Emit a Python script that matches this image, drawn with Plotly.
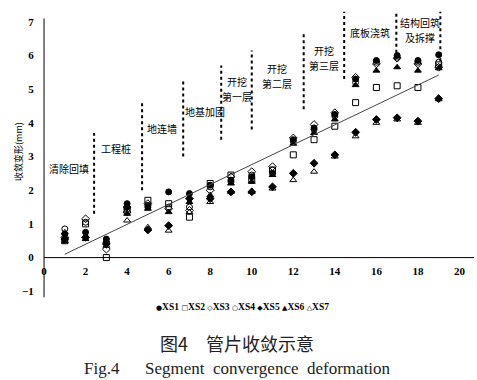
import plotly.graph_objects as go

steps = list(range(1, 20))
XS1 = [0.70, 0.75, 0.55, 1.60, 1.50, 1.95, 1.90, 2.15, 2.30, 2.40, 2.50, 3.50, 3.85, 4.25, 5.30, 5.85, 6.00, 5.85, 6.02]
XS2 = [0.50, 1.00, 0.00, 1.40, 1.70, 1.60, 1.20, 2.20, 2.45, 2.30, 2.60, 3.05, 3.50, 3.90, 4.60, 5.05, 5.10, 5.05, 5.72]
XS3 = [0.60, 1.15, 0.25, 1.35, 1.60, 1.45, 1.40, 2.00, 2.40, 2.55, 2.70, 3.55, 3.95, 4.30, 5.35, 5.75, 5.92, 5.75, 5.65]
XS4 = [0.85, 1.05, 0.45, 1.45, 1.55, 1.50, 1.50, 2.10, 2.25, 2.45, 2.60, 3.45, 3.80, 4.20, 5.20, 5.80, 5.95, 5.80, 5.80]
XS5 = [0.55, 0.60, 0.40, 1.50, 0.82, 0.95, 1.75, 1.75, 1.95, 1.95, 2.10, 2.50, 2.80, 3.05, 3.72, 4.10, 4.15, 4.05, 4.72]
XS6 = [0.48, 0.55, 0.50, 1.30, 1.45, 1.35, 1.65, 1.85, 2.20, 2.25, 2.45, 3.38, 3.70, 4.10, 5.12, 5.55, 5.65, 5.55, 5.62]
XS7 = [0.75, 0.65, 0.35, 1.10, 0.90, 0.80, 1.35, 1.65, 1.95, 1.95, 2.05, 2.30, 2.55, 3.00, 3.60, 4.00, 4.10, 4.00, 4.70]

trend_x = [1, 19]
trend_y = [0.10, 5.42]

# stage labels: (line1, line2) ; line2 empty for single-line labels
stage_line1 = ["清除回填", "工程桩", "地连墙", "地基加固", "开挖", "开挖", "开挖", "底板浇筑", "结构回筑"]
stage_line2 = ["", "", "", "", "第一层", "第二层", "第三层", "", "及拆撑"]
stage_label_x = [1.2, 3.47, 5.7, 7.76, 9.3, 11.2, 13.5, 15.7, 18.1]
stage_label_y = [2.65, 3.25, 3.84, 4.35, 5.0, 5.4, 5.93, 6.67, 6.75]

boundary_x = [2.41, 4.72, 6.7, 8.53, 10.0, 12.5, 14.45, 16.96, 19.08]
boundary_lo = [1.3, 2.0, 3.0, 3.5, 3.8, 4.4, 5.3, 5.9, 5.65]
boundary_hi = [3.7, 4.6, 5.3, 5.7, 6.15, 6.7, 7.3, 7.3, 7.3]

x_ticks = [0, 2, 4, 6, 8, 10, 12, 14, 16, 18, 20]
y_ticks = [-1, 0, 1, 2, 3, 4, 5, 6, 7]

series_names = ["XS1", "XS2", "XS3", "XS4", "XS5", "XS6", "XS7"]
legend_glyphs = ["●", "□", "◇", "○", "◆", "▲", "△"]

series = [
    (XS1, "circle"),
    (XS2, "square-open"),
    (XS3, "diamond-open"),
    (XS4, "circle-open"),
    (XS5, "diamond"),
    (XS6, "triangle-up"),
    (XS7, "triangle-up-open"),
]

fig = go.Figure()
for name, (vals, sym) in zip(series_names, series):
    fig.add_trace(go.Scatter(x=steps, y=vals, mode="markers", name=name,
                             marker=dict(symbol=sym, size=6, color="black",
                                         line=dict(color="black", width=1)),
                             showlegend=False))

fig.add_trace(go.Scatter(x=trend_x, y=trend_y, mode="lines",
                         line=dict(color="#444444", width=1), showlegend=False))

XMIN, XMAX = -0.05, 20.7
YMIN, YMAX = -1.2, 7.35
PX_PER_Y = 288 / (YMAX - YMIN)

shapes = []
shapes.append(dict(type="line", xref="x", yref="y", x0=0, x1=XMAX, y0=0, y1=0,
                   line=dict(color="black", width=1)))
shapes.append(dict(type="line", xref="x", yref="y", x0=0, x1=0, y0=-1.18, y1=7.1,
                   line=dict(color="black", width=1)))
for bx, lo, hi in zip(boundary_x, boundary_lo, boundary_hi):
    shapes.append(dict(type="line", xref="x", yref="y", x0=bx, x1=bx, y0=lo, y1=hi,
                       line=dict(color="black", width=2, dash="dot")))

annotations = []
half = 7.5 / PX_PER_Y
for l1, l2, lx, ly in zip(stage_line1, stage_line2, stage_label_x, stage_label_y):
    f = dict(family="Noto Sans CJK SC", size=10, color="black")
    if l2:
        annotations.append(dict(x=lx, y=ly + half, xref="x", yref="y", text=l1, showarrow=False,
                                font=f, xanchor="center", yanchor="middle"))
        annotations.append(dict(x=lx, y=ly - half, xref="x", yref="y", text=l2, showarrow=False,
                                font=f, xanchor="center", yanchor="middle"))
    else:
        annotations.append(dict(x=lx, y=ly, xref="x", yref="y", text=l1, showarrow=False,
                                font=f, xanchor="center", yanchor="middle"))

annotations.append(dict(x=-25 / 431, y=(298 - 152) / 288, xref="paper", yref="paper",
                        xanchor="center", yanchor="middle",
                        text="收敛变形(mm)", textangle=-90, showarrow=False,
                        font=dict(family="Noto Sans CJK SC", size=9, color="black")))

legend_text = " ".join(
    f"<span style='font-size:7px;font-family:DejaVu Sans'>{g}</span>{n}"
    for g, n in zip(legend_glyphs, series_names))
annotations.append(dict(x=(242 - 43) / 431, y=(298 - 307) / 288, xref="paper", yref="paper",
                        xanchor="center", yanchor="middle",
                        text="<b>" + legend_text + "</b>", showarrow=False,
                        font=dict(family="Liberation Serif", size=9.5, color="black")))
annotations.append(dict(x=(237 - 43) / 431, y=(298 - 343) / 288, xref="paper", yref="paper",
                        xanchor="center", yanchor="middle",
                        text="图4　管片收敛示意", showarrow=False,
                        font=dict(family="Noto Sans CJK SC", size=18, color="#222")))
annotations.append(dict(x=(237 - 43) / 431, y=(298 - 368) / 288, xref="paper", yref="paper",
                        xanchor="center", yanchor="middle",
                        text="Fig.4      Segment  convergence  deformation", showarrow=False,
                        font=dict(family="Liberation Serif", size=17, color="#222")))

fig.update_layout(
    width=477, height=380,
    margin=dict(l=43, r=3, t=10, b=82),
    plot_bgcolor="white", paper_bgcolor="white",
    shapes=shapes, annotations=annotations,
    xaxis=dict(range=[XMIN, XMAX], tickvals=x_ticks, showgrid=False, zeroline=False,
               showline=False, anchor="free", position=(0 - YMIN) / (YMAX - YMIN),
               automargin=False,
               ticks="outside", ticklen=3, tickcolor="rgba(0,0,0,0)",
               tickfont=dict(family="Liberation Serif", size=11, color="black", weight="bold")),
    yaxis=dict(range=[YMIN, YMAX], tickvals=y_ticks, showgrid=False, zeroline=False,
               showline=False, automargin=False,
               ticks="outside", ticklen=6, tickcolor="rgba(0,0,0,0)",
               tickfont=dict(family="Liberation Serif", size=11, color="black", weight="bold")),
)

fig.write_html("out.html", config={"displayModeBar": False},
               post_script="document.body.style.margin='0';")
